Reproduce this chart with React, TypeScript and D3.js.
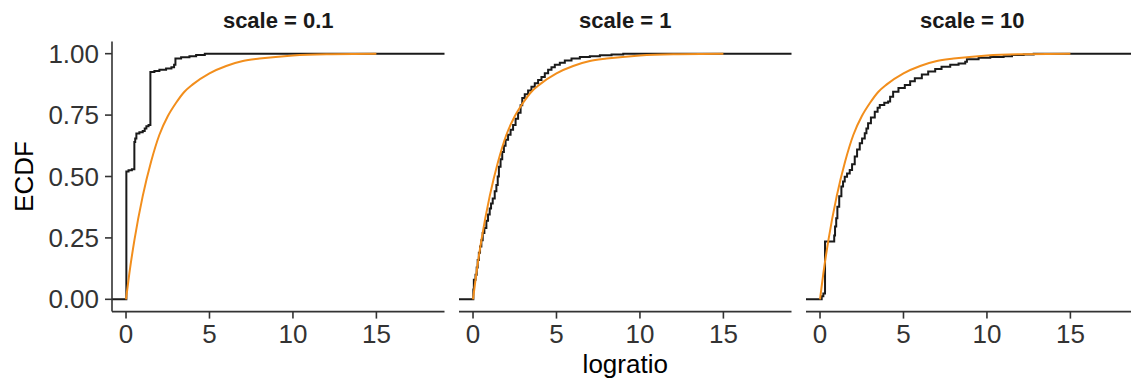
import * as d3 from "d3";

// Facet labels
const facets = ["scale = 0.1", "scale = 1", "scale = 10"];

// ECDF steps: [logratio, cumulative proportion after step]
const ecdf01: [number, number][] = [
  [0.02, 0.52], [0.15, 0.525], [0.35, 0.53], [0.5, 0.64], [0.55, 0.655],
  [0.62, 0.675], [0.8, 0.68], [1.0, 0.685], [1.12, 0.695], [1.22, 0.705],
  [1.35, 0.71], [1.46, 0.925], [1.7, 0.93], [2.0, 0.935], [2.4, 0.94],
  [2.72, 0.945], [2.88, 0.955], [2.96, 0.98], [3.3, 0.985], [3.8, 0.99],
  [4.2, 0.995], [4.72, 1.0],
];

const ecdf1: [number, number][] = [
  [0.02, 0.04], [0.05, 0.08], [0.15, 0.1], [0.22, 0.13], [0.28, 0.16],
  [0.35, 0.19], [0.42, 0.215], [0.5, 0.24], [0.58, 0.27], [0.68, 0.29],
  [0.8, 0.32], [0.9, 0.345], [1.0, 0.37], [1.08, 0.39], [1.18, 0.41],
  [1.3, 0.44], [1.4, 0.465], [1.48, 0.5], [1.55, 0.54], [1.65, 0.57],
  [1.75, 0.6], [1.85, 0.625], [1.95, 0.65], [2.1, 0.67], [2.25, 0.69],
  [2.4, 0.71], [2.55, 0.735], [2.7, 0.76], [2.85, 0.79], [2.95, 0.82],
  [3.1, 0.835], [3.3, 0.85], [3.5, 0.865], [3.7, 0.88], [3.9, 0.893],
  [4.1, 0.905], [4.3, 0.92], [4.5, 0.935], [4.7, 0.945], [4.9, 0.955],
  [5.2, 0.963], [5.5, 0.972], [5.9, 0.98], [6.4, 0.986], [7.0, 0.99],
  [7.6, 0.994], [8.3, 0.997], [9.0, 1.0],
];

const ecdf10: [number, number][] = [
  [0.1, 0.012], [0.2, 0.024], [0.3, 0.235], [0.85, 0.26], [0.9, 0.296],
  [0.97, 0.33], [1.04, 0.377], [1.15, 0.42], [1.28, 0.459], [1.38, 0.48],
  [1.48, 0.499], [1.62, 0.512], [1.78, 0.526], [1.92, 0.55], [2.08, 0.581],
  [2.22, 0.61], [2.38, 0.635], [2.52, 0.655], [2.68, 0.676], [2.78, 0.695],
  [2.88, 0.717], [3.05, 0.74], [3.28, 0.764], [3.45, 0.78], [3.58, 0.791],
  [3.85, 0.8], [4.08, 0.805], [4.2, 0.825], [4.38, 0.845], [4.7, 0.86],
  [5.08, 0.873], [5.4, 0.888], [5.68, 0.9], [6.1, 0.915], [6.48, 0.927],
  [6.9, 0.938], [7.28, 0.947], [7.8, 0.955], [8.3, 0.96], [8.7, 0.967],
  [8.8, 0.977], [9.5, 0.983], [10.2, 0.986], [11.0, 0.99], [11.5, 0.995],
  [12.2, 0.997], [12.8, 1.0],
];

const ecdfs = [ecdf01, ecdf1, ecdf10];

// reference (theoretical) CDF, same in every panel
const refX = [0, 0.25, 0.5, 1, 1.5, 2, 2.5, 3, 3.5, 4, 5, 6, 7, 8, 10, 12, 15];
const refY = [0, 0.13, 0.24, 0.42, 0.56, 0.67, 0.745, 0.8, 0.845, 0.875, 0.92, 0.95, 0.97, 0.98, 0.993, 0.998, 1.0];

const xTicks = [0, 5, 10, 15];
const yTicks = [0, 0.25, 0.5, 0.75, 1];

const W = 1131;
const H = 380;
const panelLeft = 112;
const panelW = 332.5;
const panelStep = 347;
const top = 41.4;
const bottom = 311.6;
const FONT = "'Liberation Sans', Arial, Helvetica, sans-serif";

export default function App() {
  const x = d3.scaleLinear().domain([-0.84, 19.08]).range([0, panelW]);
  const y = d3.scaleLinear().domain([-0.05, 1.05]).range([bottom, top]);
  const [xMin, xMax] = x.domain();

  const stepLine = d3
    .line<[number, number]>()
    .x((d) => x(d[0]))
    .y((d) => y(d[1]))
    .curve(d3.curveStepAfter);

  const refLine = d3
    .line<number>()
    .x((d) => x(d))
    .y((_, i) => y(refY[i]))
    .curve(d3.curveMonotoneX);

  return (
    <svg
      width={W}
      height={H}
      style={{ position: "absolute", left: 0, top: 0, background: "#fff" }}
      fontFamily={FONT}
    >
      {facets.map((label, i) => {
        const ox = panelLeft + i * panelStep;
        const pts: [number, number][] = [[xMin, 0], ...ecdfs[i], [xMax, 1]];
        return (
          <g key={label} transform={`translate(${ox},0)`}>
            <text
              x={panelW / 2}
              y={28}
              textAnchor="middle"
              fontSize={22}
              fontWeight="bold"
              fill="#1a1a1a"
            >
              {label}
            </text>
            <path d={stepLine(pts) ?? ""} fill="none" stroke="#1a1a1a" strokeWidth={2} />
            <path d={refLine(refX) ?? ""} fill="none" stroke="#f28e1c" strokeWidth={2} />
            {/* x axis */}
            <line x1={0} x2={panelW} y1={bottom} y2={bottom} stroke="#333" strokeWidth={1.6} />
            {xTicks.map((t) => (
              <g key={t}>
                <line x1={x(t)} x2={x(t)} y1={bottom} y2={bottom + 7} stroke="#333" strokeWidth={1.6} />
                <text x={x(t)} y={343} textAnchor="middle" fontSize={26} fill="#333">
                  {t}
                </text>
              </g>
            ))}
            {i === 0 && (
              <g>
                <line x1={0} x2={0} y1={top} y2={bottom} stroke="#333" strokeWidth={1.6} />
                {yTicks.map((t) => (
                  <g key={t}>
                    <line x1={-7} x2={0} y1={y(t)} y2={y(t)} stroke="#333" strokeWidth={1.6} />
                    <text x={-13} y={y(t) + 9} textAnchor="end" fontSize={26} fill="#333">
                      {t.toFixed(2)}
                    </text>
                  </g>
                ))}
              </g>
            )}
          </g>
        );
      })}
      <text
        transform={`translate(33,${(top + bottom) / 2}) rotate(-90)`}
        textAnchor="middle"
        fontSize={26}
        fill="#000"
      >
        ECDF
      </text>
      <text x={panelLeft + panelStep + panelW / 2} y={373} textAnchor="middle" fontSize={26} fill="#000">
        logratio
      </text>
    </svg>
  );
}
